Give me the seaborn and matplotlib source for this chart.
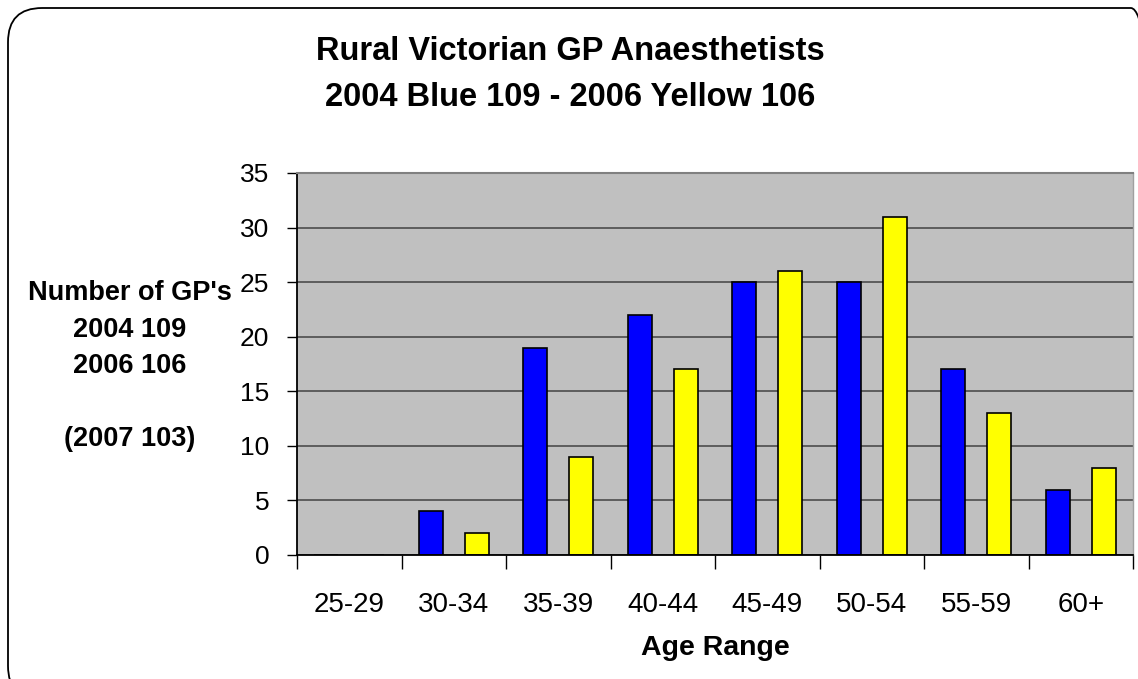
import matplotlib
matplotlib.use("Agg")
import matplotlib.pyplot as plt
import seaborn as sns
import pandas as pd
from matplotlib.patches import FancyBboxPatch

age_ranges = ["25-29", "30-34", "35-39", "40-44", "45-49", "50-54", "55-59", "60+"]
counts_2004 = [0, 4, 19, 22, 25, 25, 17, 6]
counts_2006 = [0, 2, 9, 17, 26, 31, 13, 8]
years = ["2004", "2006"]
y_ticks = [0, 5, 10, 15, 20, 25, 30, 35]
title_lines = ["Rural Victorian GP Anaesthetists", "2004 Blue 109 - 2006 Yellow 106"]
ylabel_lines = ["Number of GP's", "2004 109", "2006 106", "(2007 103)"]
xlabel = "Age Range"

df = pd.DataFrame({
    "age": age_ranges * 2,
    "count": counts_2004 + counts_2006,
    "year": [years[0]] * len(age_ranges) + [years[1]] * len(age_ranges),
})

sns.set_theme(style="white")
plt.rcParams["font.family"] = ["Liberation Sans", "DejaVu Sans"]
plt.rcParams["text.color"] = "black"
plt.rcParams["xtick.color"] = "black"
plt.rcParams["ytick.color"] = "black"

W, H = 1138, 679
fig = plt.figure(figsize=(W / 100, H / 100), dpi=100)

# rounded border
border = FancyBboxPatch((8 / W, 1 - 700 / H), (1165 - 8) / W, (700 - 8) / H,
                        boxstyle="round,pad=0,rounding_size=0.03",
                        transform=fig.transFigure, facecolor="none",
                        edgecolor="black", linewidth=1.3, mutation_aspect=W / H)
fig.patches.append(border)

L, R, T, B = 297, 1133, 173, 555
ax = fig.add_axes([L / W, 1 - B / H, (R - L) / W, (B - T) / H])
ax.set_facecolor("#C0C0C0")

sns.barplot(data=df, x="age", y="count", hue="year", order=age_ranges,
            palette=["#0000FF", "#FFFF00"], saturation=1, width=0.88, gap=0.477,
            edgecolor="black", linewidth=1.2, legend=False, ax=ax)

ax.set_xlim(-0.5, len(age_ranges) - 0.5)
ax.set_ylim(0, 35)
ax.set_yticks(y_ticks)
ax.yaxis.grid(True, color="#555555", linewidth=1.3)
ax.xaxis.grid(False)
ax.set_axisbelow(True)

ax.tick_params(axis="y", which="major", direction="out", length=7, width=1,
               color="black", labelsize=19, labelcolor="black", pad=13, left=True)
ax.tick_params(axis="x", which="major", length=0, labelsize=20,
               labelcolor="black", pad=27)
ax.set_xticks([i - 0.5 for i in range(len(age_ranges) + 1)], minor=True)
ax.tick_params(axis="x", which="minor", direction="out", length=10, width=1,
               color="black", bottom=True)
ax.set_xlabel("")
ax.set_ylabel("")

for side in ["left", "bottom"]:
    ax.spines[side].set_color("black")
    ax.spines[side].set_linewidth(1.3)
ax.spines["top"].set_color("#808080")
ax.spines["top"].set_linewidth(1.5)
ax.spines["right"].set_color("#A0A0A0")
ax.spines["right"].set_linewidth(1)

fig.text(570 / W, 1 - 51 / H, title_lines[0], ha="center", va="center",
         fontsize=23.5, fontweight="bold", color="black")
fig.text(570 / W, 1 - 97 / H, title_lines[1], ha="center", va="center",
         fontsize=23.5, fontweight="bold", color="black")

for txt, yy in zip(ylabel_lines, [293, 330, 366, 439]):
    fig.text(130 / W, 1 - yy / H, txt, ha="center", va="center",
             fontsize=19.5, fontweight="bold", color="black")

fig.text(715 / W, 1 - 648 / H, xlabel, ha="center", va="center",
         fontsize=20.5, fontweight="bold", color="black")

fig.savefig("out.png", dpi=100)
